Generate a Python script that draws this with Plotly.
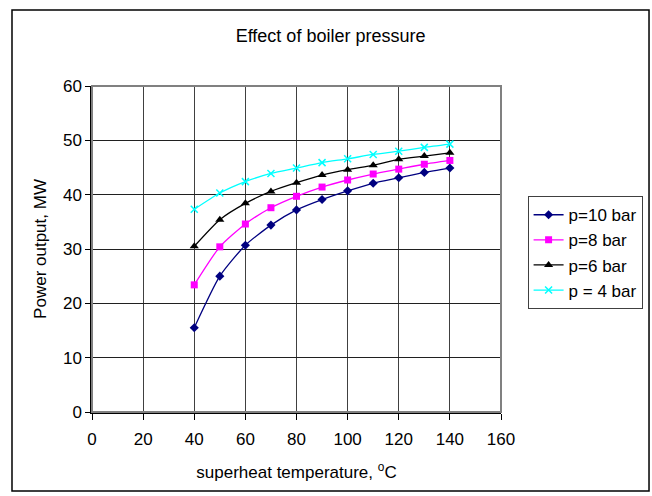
import plotly.graph_objects as go

# Superheat temperature (°C) and power output (MW) for each boiler pressure
superheat_temp = [40, 50, 60, 70, 80, 90, 100, 110, 120, 130, 140]
p10_bar = [15.5, 25.0, 30.7, 34.4, 37.2, 39.1, 40.7, 42.1, 43.1, 44.1, 44.9]
p8_bar = [23.4, 30.4, 34.6, 37.6, 39.7, 41.4, 42.7, 43.8, 44.7, 45.6, 46.3]
p6_bar = [30.5, 35.4, 38.4, 40.6, 42.2, 43.6, 44.6, 45.4, 46.5, 47.1, 47.7]
p4_bar = [37.3, 40.3, 42.4, 43.9, 44.9, 45.9, 46.6, 47.4, 48.0, 48.7, 49.3]

x_ticks = [0, 20, 40, 60, 80, 100, 120, 140, 160]
y_ticks = [0, 10, 20, 30, 40, 50, 60]

series = [
    ("p=10 bar", p10_bar, "#000080", dict(symbol="diamond", size=7, color="#000080")),
    ("p=8 bar", p8_bar, "#FF00FF", dict(symbol="square", size=7, color="#FF00FF")),
    ("p=6 bar", p6_bar, "#000000", dict(symbol="triangle-up", size=8, color="#000000")),
    ("p = 4 bar", p4_bar, "#00FFFF",
     dict(symbol="x-thin", size=7, color="#00FFFF", line=dict(color="#00FFFF", width=1.5))),
]

fig = go.Figure()
for name, vals, col, marker in series:
    fig.add_trace(go.Scatter(
        x=superheat_temp, y=vals, name=name, mode="lines+markers",
        line=dict(color=col, width=1.3, shape="spline", smoothing=0.6),
        marker=marker,
    ))

font_family = "Liberation Sans, Arial, sans-serif"

fig.update_layout(
    width=652, height=496,
    margin=dict(l=92, r=151, t=86, b=84, autoexpand=False),
    paper_bgcolor="white", plot_bgcolor="white",
    font=dict(family=font_family, size=17, color="black"),
    title=dict(text="Effect of boiler pressure", x=0.507, xanchor="center",
               y=0.929, yanchor="middle", font=dict(size=18)),
    showlegend=True,
    legend=dict(x=1.065, xanchor="left", y=0.662, yanchor="top",
                bordercolor="#404040", borderwidth=1, bgcolor="white",
                font=dict(size=17), tracegroupgap=0, itemwidth=30,
                entrywidth=78, entrywidthmode="pixels"),
    xaxis=dict(
        range=[0, 160], tickvals=x_ticks, ticktext=[str(v) for v in x_ticks],
        showgrid=True, gridcolor="#404040", gridwidth=1,
        showline=True, linecolor="black", linewidth=1.5,
        ticks="outside", ticklen=6, tickcolor="black", ticklabelstandoff=5,
        zeroline=False,
        title=dict(text="superheat temperature, <sup>o</sup>C", standoff=18,
                   font=dict(size=17)),
    ),
    yaxis=dict(
        range=[0, 60], tickvals=y_ticks, ticktext=[str(v) for v in y_ticks],
        showgrid=True, gridcolor="#202020", gridwidth=1,
        showline=True, linecolor="black", linewidth=1.5,
        ticks="outside", ticklen=5, tickcolor="black",
        zeroline=False,
        title=dict(text="Power output, MW", standoff=12, font=dict(size=17)),
    ),
)

# Grey frame around the plot area
fig.add_shape(type="rect", xref="paper", yref="paper", x0=0, y0=0, x1=1, y1=1,
              line=dict(color="#808080", width=2), layer="above")
# Black border around the whole chart
fig.add_shape(type="rect", xref="paper", yref="paper",
              x0=-0.1956, y0=-0.2423, x1=1.3619, y1=1.2331,
              line=dict(color="black", width=1.5), layer="above")

fig.write_html("out.html")
